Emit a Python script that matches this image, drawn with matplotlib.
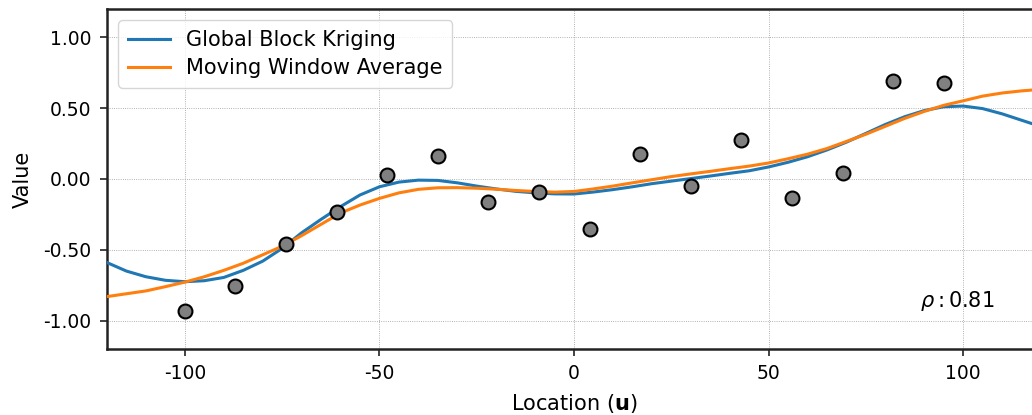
import matplotlib
matplotlib.use("Agg")
import matplotlib.pyplot as plt

# data points
pt_x = [-100, -87, -74, -61, -48, -35, -22, -9, 4, 17, 30, 43, 56, 69, 82, 95]
pt_y = [-0.93, -0.755, -0.46, -0.23, 0.03, 0.165, -0.16, -0.09, -0.35, 0.175, -0.05, 0.275, -0.135, 0.04, 0.69, 0.68]

# curves
curve_x = [-120, -115, -110, -105, -100, -95, -90, -85, -80, -75, -70, -65, -60, -55, -50, -45, -40, -35, -30, -25,
           -20, -15, -10, -5, 0, 5, 10, 15, 20, 25, 30, 35, 40, 45, 50, 55, 60, 65, 70, 75, 80, 85, 90, 95, 100,
           105, 110, 115, 120]
gbk_y = [-0.59, -0.65, -0.69, -0.715, -0.725, -0.718, -0.695, -0.645, -0.58, -0.49, -0.38, -0.285, -0.195, -0.113,
         -0.055, -0.022, -0.008, -0.01, -0.027, -0.05, -0.07, -0.087, -0.098, -0.105, -0.106, -0.092, -0.075,
         -0.055, -0.033, -0.015, 0.003, 0.021, 0.04, 0.058, 0.085, 0.118, 0.157, 0.205, 0.26, 0.322, 0.385,
         0.44, 0.483, 0.51, 0.515, 0.497, 0.46, 0.415, 0.37]
mwa_y = [-0.83, -0.81, -0.79, -0.76, -0.728, -0.69, -0.645, -0.595, -0.535, -0.475, -0.40, -0.32, -0.24, -0.184,
         -0.137, -0.098, -0.073, -0.062, -0.061, -0.065, -0.072, -0.081, -0.088, -0.093, -0.088, -0.07, -0.05,
         -0.027, -0.005, 0.017, 0.036, 0.054, 0.073, 0.091, 0.113, 0.143, 0.175, 0.215, 0.265, 0.316, 0.372,
         0.428, 0.477, 0.52, 0.552, 0.585, 0.607, 0.622, 0.633]

xticks = [-100, -50, 0, 50, 100]
yticks = [-1.0, -0.5, 0.0, 0.5, 1.0]
rho_text = r"$\rho: 0.81$"

plt.rcParams['font.family'] = ['DejaVu Sans']
plt.rcParams['axes.unicode_minus'] = False

fig = plt.figure(figsize=(10.32, 4.15), dpi=100)
ax = fig.add_axes([107/1032, 66/415, 934/1032, 340/415])

ax.plot(curve_x, gbk_y, color='#1f77b4', lw=2.2, label='Global Block Kriging', zorder=3)
ax.plot(curve_x, mwa_y, color='#ff7f0e', lw=2.2, label='Moving Window Average', zorder=3)
ax.plot(pt_x, pt_y, 'o', ms=10, mfc='#808080', mec='black', mew=1.5, zorder=4, ls='none')

ax.set_xlim(-120, 120)
ax.set_ylim(-1.2, 1.2)
ax.set_xticks(xticks)
ax.set_xticklabels([str(t) for t in xticks])
ax.set_yticks(yticks)
ax.set_yticklabels(["%.2f" % t for t in yticks])
ax.tick_params(labelsize=13.5, length=5, width=1.2, color='#222222', pad=6)
ax.grid(True, ls=':', lw=0.6, color='#999999')
for s in ax.spines.values():
    s.set_linewidth(1.8)
    s.set_color('#222222')

ax.set_xlabel(r"Location ($\mathbf{u}$)", fontsize=15, labelpad=6)
ax.set_ylabel("Value", fontsize=15, labelpad=8)
ax.text(0.87, 0.14, rho_text, transform=ax.transAxes, fontsize=15, ha='left', va='center')

ax.legend(loc='upper left', fontsize=15, handlelength=2.0, borderpad=0.45, labelspacing=0.4,
          borderaxespad=0.55)

fig.savefig('out.png', dpi=100)
